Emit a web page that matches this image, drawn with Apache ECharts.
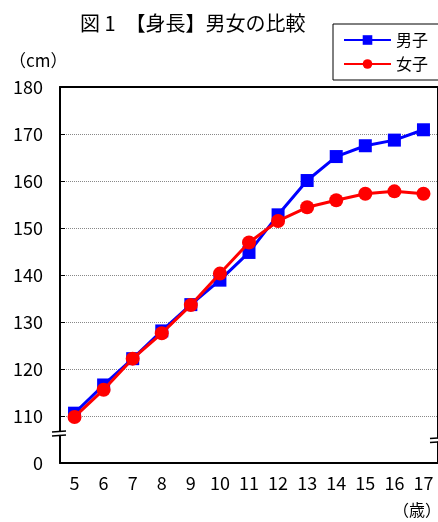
<!DOCTYPE html>
<html>
<head>
<meta charset="utf-8">
<script src="https://cdn.jsdelivr.net/npm/echarts@6/dist/echarts.min.js"></script>
<style>
html,body{margin:0;padding:0;background:#fff;}
#c{width:438px;height:522px;}
</style>
</head>
<body>
<div id="c"></div>
<script>
const ages = ['5','6','7','8','9','10','11','12','13','14','15','16','17'];
const boys = [110.6, 116.6, 122.2, 128.1, 133.7, 138.9, 144.8, 152.8, 160.1, 165.2, 167.5, 168.7, 170.9];
const girls = [109.8, 115.6, 122.2, 127.6, 133.6, 140.3, 146.9, 151.5, 154.4, 155.9, 157.3, 157.8, 157.3];
const yMin = 100, yMax = 180, yStep = 10;
const breakLeft = 106.4, breakRight = 105.0;

const FONT = '"Noto Sans CJK JP", "Noto Sans", sans-serif';
const chart = echarts.init(document.getElementById('c'));
const option = {
  animation: false,
  backgroundColor: '#fff',
  textStyle: { fontFamily: FONT },
  title: {
    text: '図 1　【身長】男女の比較',
    left: 75, top: 8,
    textStyle: { fontFamily: FONT, fontSize: 20, fontWeight: 'normal', color: '#000' }
  },
  legend: {
    orient: 'vertical',
    left: 333, top: 24,
    padding: [8, 12, 8, 10],
    itemGap: 8,
    itemWidth: 47, itemHeight: 12,
    borderColor: '#000', borderWidth: 1,
    textStyle: { fontFamily: FONT, fontSize: 16, color: '#000' },
    data: ['男子', '女子']
  },
  grid: { left: 60, right: -2, top: 87, bottom: 59, containLabel: false },
  xAxis: [{
    type: 'category',
    data: ages,
    boundaryGap: true,
    axisLine: { lineStyle: { color: '#000', width: 2 } },
    axisTick: { inside: true, length: 5, lineStyle: { color: '#000', width: 1 } },
    axisLabel: { color: '#000', fontSize: 18, margin: 11, fontFamily: FONT, interval: 0 },
    splitLine: { show: false }
  }, {
    type: 'category',
    data: ages,
    position: 'top',
    axisLine: { lineStyle: { color: '#000', width: 2 } },
    axisTick: { show: false },
    axisLabel: { show: false }
  }],
  yAxis: [{
    type: 'value',
    min: yMin, max: yMax, interval: yStep,
    axisLine: { show: true, lineStyle: { color: '#000', width: 2 } },
    axisTick: { show: true, inside: true, length: 5, lineStyle: { color: '#000', width: 1 } },
    axisLabel: {
      color: '#000', fontSize: 18, margin: 17, fontFamily: FONT,
      formatter: v => (v === yMin ? '0' : String(v))
    },
    splitLine: { show: true, lineStyle: { color: '#888', type: 'dotted', width: 1 } }
  }, {
    type: 'value',
    min: yMin, max: yMax, interval: yStep,
    position: 'right',
    axisLine: { show: true, lineStyle: { color: '#000', width: 2 } },
    axisTick: { show: false },
    axisLabel: { show: false },
    splitLine: { show: false }
  }],
  series: [{
    name: '男子',
    type: 'line',
    data: boys,
    symbol: 'rect',
    symbolSize: 13,
    itemStyle: { color: '#0000ff' },
    lineStyle: { color: '#0000ff', width: 3 },
    z: 3
  }, {
    name: '女子',
    type: 'line',
    data: girls,
    symbol: 'circle',
    symbolSize: 14,
    itemStyle: { color: '#ff0000' },
    lineStyle: { color: '#ff0000', width: 3 },
    z: 4
  }]
};
chart.setOption(option);

const xl = chart.convertToPixel({ xAxisIndex: 0 }, ages[0]);
const band = chart.convertToPixel({ xAxisIndex: 0 }, ages[1]) - xl;
const leftX = xl - band / 2;
const rightX = xl + band * (ages.length - 0.5);
function brk(x, v) {
  const yb = chart.convertToPixel({ yAxisIndex: 0 }, v);
  return [
    { type: 'rect', shape: { x: x - 3, y: yb - 1, width: 6, height: 3 }, style: { fill: '#fff' }, z: 9 },
    { type: 'line', shape: { x1: x - 8, y1: yb - 1, x2: x + 6, y2: yb - 2 }, style: { stroke: '#000', lineWidth: 1.5 }, z: 10 },
    { type: 'line', shape: { x1: x - 8, y1: yb + 3, x2: x + 6, y2: yb + 2 }, style: { stroke: '#000', lineWidth: 1.5 }, z: 10 }
  ];
}
chart.setOption({
  graphic: [
    ...brk(leftX, breakLeft),
    ...brk(rightX, breakRight),
    { type: 'text', left: 9, top: 52, style: { text: '（cm）', font: '17px ' + FONT, fill: '#000' } },
    { type: 'text', left: 393, top: 502, style: { text: '（歳）', font: '16px ' + FONT, fill: '#000' } }
  ]
});
</script>
</body>
</html>
